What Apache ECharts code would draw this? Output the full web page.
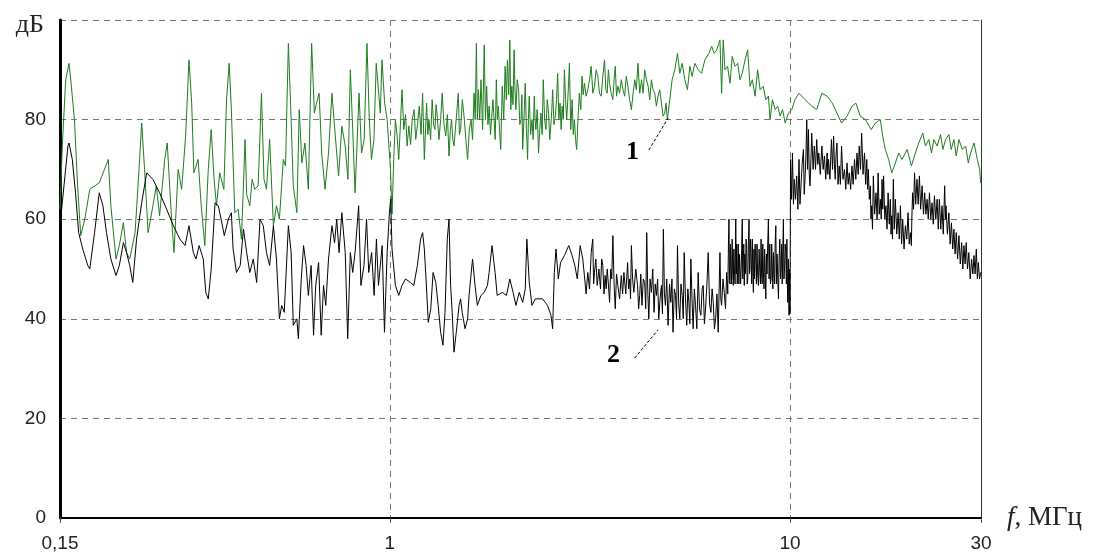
<!DOCTYPE html>
<html><head><meta charset="utf-8">
<script src="https://cdn.jsdelivr.net/npm/echarts@6/dist/echarts.min.js"></script>
<style>html,body{margin:0;padding:0;background:#fff}#c{width:1109px;height:555px}</style>
</head><body><div id="c"></div>
<script>
// x tick values (MHz) and their printed labels
const xTickValues = [0.15, 1, 10, 30];
const xTickLabels = ['0,15', '1', '10', '30'];
// y axis
const yMin = 0, yMax = 100, yStep = 20;
const yUnit = 'дБ';
const xName = 'f, МГц';

// curve 1 (green): [frequency MHz, level dB]
const curve1 = [
[0.150,62],[0.152,74.7],[0.155,88],[0.158,91.3],[0.160,87],[0.163,80],[0.166,66.7],[0.169,56.7],[0.173,60],[0.178,66],[0.188,67.3],[0.198,72],[0.201,62.7],[0.207,52],[0.211,54.7],[0.216,59.3],[0.220,53.3],[0.224,52],[0.231,57.3],[0.235,66.7],[0.240,79.3],[0.244,70],[0.249,57.3],[0.256,62.7],[0.261,66.7],[0.266,60.7],[0.274,72],[0.278,75.3],[0.285,60],[0.289,53.3],[0.296,70],[0.302,66],[0.309,76.7],[0.315,92],[0.320,83.3],[0.324,69.3],[0.332,72],[0.338,62.7],[0.345,54.7],[0.352,70],[0.358,78],[0.364,68],[0.369,62.7],[0.376,69.3],[0.385,66],[0.391,84],[0.397,91.3],
[0.402,82],[0.410,61.3],[0.418,62],[0.426,56],[0.435,76],[0.439,65],[0.447,62.7],[0.453,68],[0.460,66],[0.469,66.7],[0.478,85.3],[0.485,68],[0.492,66],[0.501,76],[0.512,58.7],[0.521,62.7],[0.530,60],[0.542,72],[0.549,70.7],[0.558,95.3],[0.567,80],[0.574,66.7],[0.586,61.3],[0.594,82],[0.603,71.3],[0.614,75.3],[0.626,66],[0.638,95.3],[0.648,81.3],[0.656,83.3],[0.666,85.3],[0.676,73.3],[0.689,66],[0.703,73.3],[0.717,85.3],[0.731,76.7],[0.745,68.7],[0.759,78.7],[0.774,74.7],[0.786,68],[0.797,90],[0.808,78],[0.819,65.3],[0.838,85.3],[0.850,73.3],[0.863,76],[0.877,95.3],[0.889,80],[0.900,72],[0.913,76],[0.925,91.3],[0.947,81.3],[0.956,92],[0.971,83.3],[0.985,80],
[0.994,80],[1.004,70],[1.013,61],[1.023,72],[1.033,80],[1.043,76.7],[1.053,72],[1.063,79],[1.073,86],[1.084,78],[1.095,81],[1.105,74.7],[1.116,78.7],[1.127,75],[1.138,80],[1.150,82],[1.161,76],[1.173,79],[1.185,82.7],[1.197,77],[1.208,85.3],[1.220,72],[1.236,83.3],[1.245,77],[1.253,80],[1.265,76],[1.276,84],[1.287,79],[1.297,78],[1.305,83],[1.314,80.7],[1.327,76],[1.340,80],[1.352,85.3],[1.366,79],[1.380,76.7],[1.393,81],[1.406,72.7],[1.417,78],[1.427,80],[1.437,76],[1.447,74.7],[1.465,80],[1.483,85.3],[1.493,77],[1.503,78],[1.518,84],[1.533,80.7],[1.549,76],[1.565,72],[1.580,78],[1.596,80],[1.610,76],[1.624,85.3],[1.635,80],[1.646,95.3],[1.655,80],[1.665,86],[1.678,80],[1.690,88],[1.706,78],[1.722,95],[1.734,80],[1.746,86.7],[1.759,79],[1.771,82.7],[1.785,77],[1.798,80.7],[1.810,84],[1.822,80],[1.834,76],[1.846,88],[1.857,80],[1.867,82.7],[1.880,78],[1.893,74],[1.910,86.7],[1.926,80],[1.942,90.7],[1.955,84],[1.968,92],[1.982,85],[1.995,96],[2.006,82],[2.018,86.7],[2.032,83],[2.045,94],[2.055,86],[2.066,82],[2.082,88],[2.098,86],[2.113,79],[2.128,80],[2.138,85],[2.148,74],[2.164,80],[2.180,87.3],[2.195,78],[2.210,72],[2.220,80],[2.231,84.7],[2.248,77],[2.266,80],[2.281,76],[2.296,84.7],[2.307,80],[2.318,78],[2.335,82],[2.353,73.3],[2.370,78],[2.386,81.3],[2.402,77],[2.419,88],[2.437,80],[2.456,78],[2.474,84],[2.493,81.3],[2.510,76],[2.528,79.3],[2.540,82],[2.552,86],[2.572,79],[2.592,80.7],[2.610,84],[2.627,89.3],[2.645,80],[2.663,83.3],[2.680,78],[2.695,82.7],[2.713,80],[2.731,90],[2.749,84],[2.767,80],[2.789,85],[2.811,91.3],[2.833,78],[2.855,84],[2.874,77],[2.893,80],[2.912,76],[2.930,74],[2.953,80],[2.976,85.3],[3.000,82],[3.022,88.7],[3.043,85],
[3.064,87.3],[3.094,84.7],[3.124,86],[3.155,88],[3.186,90.7],[3.216,85.3],[3.247,86.7],[3.278,90],[3.310,88.7],[3.342,85.3],[3.375,84.7],[3.407,88.7],[3.440,92],[3.466,86],[3.493,85.3],[3.517,90],[3.541,87.3],[3.575,85.3],[3.609,84],[3.634,88],[3.659,90.7],[3.686,84.7],[3.714,86.7],[3.751,85.3],[3.788,88],[3.825,86],[3.862,84.7],[3.898,88.7],[3.935,86.7],[3.975,84],[4.015,82],[4.054,85.3],[4.093,88],[4.131,86],[4.169,91.3],[4.212,85.3],[4.256,88],[4.295,85.3],[4.334,90],[4.377,88],[4.420,86.7],[4.462,84],[4.505,88],[4.548,86],[4.592,85.3],[4.636,82.7],[4.680,84.7],[4.726,86],[4.772,83.3],[4.818,80.7],[4.864,81.3],[4.900,83.3],[4.937,80],
[5.007,84],[5.074,88],[5.154,90],[5.234,93.3],[5.304,89.3],[5.378,91.3],[5.460,88],[5.543,86],[5.620,90.7],[5.694,88.7],[5.783,91.3],[5.895,90],[6.012,89.3],[6.127,92],[6.271,93.3],[6.370,94.7],[6.465,93.3],[6.560,94],[6.682,96],[6.746,85.3],[6.809,96],[6.877,90],[6.983,90.7],[7.079,87.3],[7.172,92.7],[7.286,90.7],[7.401,91.3],[7.500,88],[7.597,89.3],[7.720,92],[7.837,94],[7.945,86.7],[8.050,88],[8.180,84.7],[8.300,90],[8.418,86],[8.570,86.7],[8.700,84],[8.830,84.7],[8.918,80],[9.036,84],[9.180,82],[9.320,82.7],[9.447,80.7],[9.580,82],[9.724,79.3],[9.910,81.3],
[10.10,82],[10.29,84],[10.53,85.3],[10.90,84],[11.33,82.7],[11.66,82],[12.01,85.3],[12.38,84.7],[12.76,83.3],[13.10,81.3],[13.45,79.3],[13.88,80.7],[14.28,82.7],[14.61,83.3],[14.98,80.7],[15.42,80],[15.96,78],[16.33,79.3],[16.81,80],[17.04,76.7],[17.30,74],[17.64,72],[17.95,69.3],[18.33,71.3],[18.69,73.3],[19.05,72],[19.62,74],[20.10,70.7],[20.57,73.3],[20.97,75.3],[21.46,77.3],[21.80,74.7],[22.22,76],[22.57,73.3],[22.87,76],[23.31,74.7],[23.77,77],[24.09,74],[24.47,76],[24.94,77],[25.28,74],[25.67,76],[26.02,72.7],[26.42,76],[26.94,74],[27.46,74.7],[27.89,71.3],[28.26,73.3],[28.82,75.3],[29.38,72],[29.77,70],[29.94,67.3]
];

// curve 2 (black): [frequency MHz, level dB]
const curve2 = [
[0.150,58.7],[0.157,74.7],[0.158,75.3],[0.161,72],[0.164,65.3],[0.167,57.3],[0.171,54],[0.176,50.7],[0.178,50],[0.183,57.3],[0.188,65.3],[0.192,62.7],[0.196,57.3],[0.201,52],[0.207,48.7],[0.211,50.7],[0.216,55.3],[0.220,53.3],[0.224,50.7],[0.228,47.3],[0.233,56],[0.240,63.3],[0.247,69.3],[0.256,68],[0.266,65.3],[0.277,62],[0.288,58.7],[0.299,56],[0.308,54.7],[0.315,58.7],[0.323,53.3],[0.328,52],[0.334,54.7],[0.342,52],[0.347,45.3],[0.352,44],[0.358,50],[0.366,63.3],[0.373,62.7],[0.379,60],[0.386,56.7],[0.395,60],
[0.402,61.3],[0.406,54],[0.414,49.3],[0.423,50.7],[0.431,58],[0.439,53.3],[0.447,49.3],[0.456,52],[0.465,47.3],[0.474,60],[0.483,58.7],[0.492,53.3],[0.501,50.7],[0.512,58.7],[0.521,52],[0.530,40],[0.537,42.7],[0.545,41.3],[0.558,58.7],[0.567,53.3],[0.574,38.7],[0.586,40],[0.591,36],[0.601,48],[0.609,54.7],[0.618,50.7],[0.626,44.7],[0.636,50.7],[0.645,36.7],[0.653,46.7],[0.664,51.3],[0.674,36.7],[0.683,46.7],[0.692,42.7],[0.703,52],[0.717,58.7],[0.728,55.3],[0.737,60],[0.747,53.3],[0.759,61.3],[0.774,53.3],[0.785,36],[0.797,53.3],[0.808,49.3],[0.819,53.3],[0.836,62.7],[0.847,46.7],[0.862,50.7],[0.875,60],[0.886,49.3],[0.901,53.3],[0.914,44.7],[0.926,56],[0.937,46.7],[0.957,54.7],[0.970,37.3],[0.985,53.3],[0.998,61.3],
[1.005,64],[1.013,54],[1.033,46.7],[1.053,44.7],[1.073,46.7],[1.095,48],[1.126,47.3],[1.148,46.7],[1.172,50.7],[1.194,56],[1.208,57.3],[1.220,54],[1.232,48],[1.248,39.3],[1.266,42],[1.283,49.3],[1.303,47.3],[1.321,42.7],[1.340,37.3],[1.358,34.7],[1.374,41.3],[1.392,56],[1.406,60],[1.419,46.7],[1.432,41.3],[1.447,33.3],[1.466,37.3],[1.490,42.7],[1.503,44],[1.517,41.3],[1.542,38],[1.565,40],[1.578,44.7],[1.610,52],[1.633,46.7],[1.655,42.7],[1.690,44.7],[1.722,45.3],[1.754,46.7],[1.771,49.3],[1.801,54.7],[1.833,49.3],[1.855,44.7],[1.910,45.3],[1.957,44.7],[1.995,48],[2.033,45.3],[2.066,42.7],[2.106,45.3],[2.148,43.3],[2.180,46],[2.200,56],[2.231,47.3],[2.266,42.7],[2.309,44],[2.409,44],[2.478,42.7],[2.528,40.7],[2.552,38],[2.577,49.3],[2.602,54],[2.637,48],[2.671,51.3],[2.731,52.7],[2.799,54.7],[2.855,52.7],[2.900,50.7],[2.941,48],[2.990,54.7],[3.035,52],
[3.064,48.7],[3.094,45],[3.124,49.3],[3.155,46],[3.186,53.3],[3.215,56],[3.231,47],[3.247,49.3],[3.272,52],[3.298,46.7],[3.330,50],[3.361,46],[3.384,52],[3.406,50.7],[3.430,45],[3.452,48.7],[3.473,46],[3.493,50],[3.517,47],[3.541,43.3],[3.564,50],[3.586,48],[3.609,56.7],[3.634,47],[3.659,42],[3.686,49],[3.714,46.7],[3.751,44],[3.788,48.7],[3.817,45],[3.846,49.3],[3.887,45],[3.928,51.3],[3.951,46],[3.975,48],[3.995,44],[4.015,54.7],[4.043,48],[4.072,45.3],[4.116,50],[4.160,46.7],[4.185,42],[4.211,44.7],[4.238,49],[4.266,42.7],[4.300,48],[4.334,47.3],[4.360,42],[4.385,57.3],[4.410,46],[4.437,40],[4.470,48],[4.505,45.3],[4.540,50],[4.574,41.3],[4.605,47],[4.637,44.7],[4.668,48],[4.699,40],[4.735,44],[4.772,46.7],[4.800,41],[4.826,58],[4.855,45],[4.883,42.7],[4.920,48],[4.958,38.7],[5.000,47],[5.036,43.3],[5.070,48],[5.101,37.3],[5.140,46],[5.176,44.7],[5.205,40],[5.234,54.7],[5.270,43],[5.304,40],[5.340,47],[5.378,44.7],[5.410,40],[5.440,53.3],[5.480,44],[5.520,38.7],[5.555,46],[5.588,43.3],[5.620,39],[5.652,52],[5.690,44],[5.728,38],[5.767,46],[5.806,42.7],[5.850,38],[5.895,49.3],[5.940,42],[5.988,40.7],[6.030,46],[6.069,46.7],[6.110,39],[6.151,42],[6.200,47],[6.246,53.3],[6.295,43],[6.344,41.3],[6.387,46],[6.430,43.3],[6.474,38],[6.518,40],[6.567,45],[6.616,37.3],[6.682,53.3],[6.715,44],[6.746,42.7],[6.800,48],[6.850,45.3],[6.900,42],[6.945,49.3],[6.990,45],
[7.020,56],[7.038,60],[7.060,48],[7.080,47],[7.100,55],[7.120,50.7],[7.145,47],[7.170,56],[7.190,50],[7.215,46.7],[7.240,54],[7.260,50],[7.290,47],[7.318,60],[7.340,49],[7.360,55],[7.380,47],[7.401,49.3],[7.425,55],[7.450,47],[7.475,53],[7.500,53.3],[7.525,47],[7.550,50],[7.575,55],[7.597,60],[7.620,48],[7.640,52],[7.665,55],[7.686,46.7],[7.710,53],[7.740,49],[7.765,56],[7.790,54.7],[7.815,47],[7.840,48],[7.870,55],[7.899,60],[7.920,49],[7.940,50],[7.965,56],[7.991,53.3],[8.020,47],[8.050,56],[8.075,49],[8.100,45.3],[8.125,54],[8.150,48],[8.180,55],[8.211,52],[8.240,47],[8.270,55],[8.300,49],[8.337,46.7],[8.370,54],[8.400,50],[8.435,47],[8.466,56],[8.490,49],[8.520,47],[8.550,55],[8.580,49.3],[8.610,46],[8.640,54],[8.670,49],[8.700,44],[8.730,53],[8.760,49],[8.795,55],[8.830,60],[8.865,48],[8.900,55],[8.935,47],[8.969,48],[9.000,55],[9.030,50],[9.060,46],[9.090,53.3],[9.120,49],[9.150,47],[9.180,55],[9.215,58.7],[9.245,47],[9.280,53],[9.320,48],[9.355,44],[9.390,52],[9.430,56],[9.465,48],[9.502,50.7],[9.530,55],[9.560,47],[9.590,53],[9.625,60],[9.655,48],[9.690,50],[9.725,55],[9.763,53.3],[9.790,47],[9.820,56],[9.845,48],[9.870,43.3],[9.900,52],[9.943,40.7],[9.970,50],[10.00,41],[10.03,72],
[10.09,64],[10.14,73.3],[10.20,63],[10.25,68],[10.32,64],[10.39,68.7],[10.46,62],[10.53,72],[10.59,63],[10.65,66.7],[10.72,71],[10.80,74],[10.85,65],[10.90,68],[10.96,73],[11.01,80],[11.06,70],[11.12,78],[11.17,69],[11.22,66.7],[11.28,72],[11.33,77.3],[11.42,70],[11.50,74.7],[11.58,70],[11.66,76],[11.73,71],[11.80,73.3],[11.90,69],[12.01,74.7],[12.10,70],[12.19,72.7],[12.28,68],[12.38,73.3],[12.43,69],[12.48,72],[12.58,68],[12.69,76],[12.77,70],[12.85,76.7],[12.91,71],[12.97,68],[13.03,73],[13.10,75.3],[13.18,67],[13.27,70.7],[13.36,67],[13.45,74.7],[13.56,68],[13.68,70],[13.78,66],[13.88,71.3],[13.97,67],[14.06,69.3],[14.17,66],[14.28,70.7],[14.38,67],[14.49,72],[14.60,68],[14.70,73.3],[14.80,69],[14.89,74.7],[15.00,70],[15.10,77.3],[15.22,69],[15.35,73.3],[15.45,67],[15.55,72],[15.62,66],[15.69,70],[15.78,64],[15.87,66.7],[15.93,60],[16.00,62.7],[16.07,58],[16.15,68.7],[16.27,61],[16.40,65.3],[16.50,60],[16.60,69.3],[16.70,61],[16.81,64],[16.90,60],[16.98,68],[17.05,62],[17.13,68.7],[17.25,60],[17.36,62.7],[17.47,58],[17.58,65.3],[17.70,59],[17.81,64],[17.88,57],[17.95,60.7],[18.03,56],[18.12,68],[18.22,58],[18.33,64],[18.48,57],[18.62,61.3],[18.75,56],[18.87,62.7],[19.00,55],[19.12,60],[19.27,54],[19.42,58.7],[19.57,56],[19.72,61.3],[19.85,55],[19.99,57.3],[20.10,54.7],[20.15,60],[20.24,65.3],[20.35,62],[20.47,69.3],[20.60,63],[20.76,68],[20.90,63],[21.05,68.7],[21.20,62],[21.38,66.7],[21.55,61],[21.70,65.3],[21.85,61],[22.00,64],[22.15,60],[22.30,65.3],[22.47,60],[22.64,63.3],[22.80,59],[22.95,64.7],[23.13,60],[23.31,64],[23.46,58],[23.61,64],[23.80,58],[23.97,62.7],[24.15,57],[24.34,66.7],[24.45,60],[24.53,62.7],[24.73,57],[24.94,61.3],[25.12,55],[25.31,59.3],[25.50,54],[25.67,58],[25.85,53],[26.02,57.3],[26.22,52],[26.42,56.7],[26.63,51],[26.84,55.3],[27.02,50],[27.20,54.7],[27.38,51],[27.55,55.3],[27.76,50],[27.97,53.3],[28.20,48],[28.42,52],[28.62,49],[28.82,52.7],[29.00,49],[29.20,54],[29.38,48],[29.55,51.3],[29.75,48],[29.94,49.3]
];

// curve labels and their pointers (data coordinates)
const label1 = {text: '1', at: [4.04, 73.5], from: [4.44, 73.9], to: [4.96, 80.3]};
const label2 = {text: '2', at: [3.62, 32.7], from: [4.09, 32.1], to: [4.68, 37.8]};

function xLabel(v) {
  let best = 0;
  for (let i = 1; i < xTickValues.length; i++) {
    if (Math.abs(Math.log(v / xTickValues[i])) < Math.abs(Math.log(v / xTickValues[best]))) best = i;
  }
  return xTickLabels[best];
}

const annotStyle = {fontFamily: 'Liberation Serif', fontWeight: 'bold', fontSize: 26, color: '#000'};
function markFor(lb) {
  return {
    markPoint: {
      symbol: 'circle', symbolSize: 1, silent: true,
      itemStyle: {color: 'rgba(0,0,0,0)'},
      label: Object.assign({show: true, position: 'inside', formatter: lb.text}, annotStyle),
      data: [{coord: lb.at}]
    },
    markLine: {
      symbol: ['none', 'none'], silent: true,
      lineStyle: {color: '#000', type: [3, 2], width: 1},
      label: {show: false},
      data: [[{coord: lb.from}, {coord: lb.to}]]
    }
  };
}

const chart = echarts.init(document.getElementById('c'), null, {renderer: 'canvas'});
chart.setOption({
  animation: false,
  backgroundColor: '#fff',
  grid: {left: 60, right: 128, top: 20, bottom: 37, containLabel: false},
  xAxis: {
    type: 'log', logBase: 10, min: xTickValues[0], max: xTickValues[xTickValues.length - 1],
    axisLine: {show: true, onZero: false, lineStyle: {color: '#000', width: 2}},
    axisTick: {show: true, length: 5, lineStyle: {color: '#555'}},
    axisLabel: {fontFamily: 'Liberation Sans', fontSize: 19, color: '#222', margin: 16,
      showMinLabel: true, showMaxLabel: true, formatter: xLabel},
    splitLine: {show: true, lineStyle: {color: '#777', type: [6, 5], width: 1}},
    minorTick: {show: false}, minorSplitLine: {show: false},
    name: '{i|f}{n|' + xName.slice(1) + '}', nameLocation: 'end', nameGap: 26,
    nameTextStyle: {
      rich: {
        i: {fontFamily: 'Liberation Serif', fontStyle: 'italic', fontSize: 27, color: '#222'},
        n: {fontFamily: 'Liberation Serif', fontSize: 27, color: '#222'}
      }
    }
  },
  yAxis: [{
    type: 'value', min: yMin, max: yMax, interval: yStep,
    axisLine: {show: true, onZero: false, lineStyle: {color: '#000', width: 3}},
    axisTick: {show: false},
    axisLabel: {fontFamily: 'Liberation Sans', fontSize: 19, color: '#222', margin: 14,
      formatter: v => v === yMax ? '{u|' + yUnit + '}' : String(v),
      rich: {u: {fontFamily: 'Liberation Serif', fontSize: 26, color: '#222', padding: [10, 2, 0, 0]}}},
    splitLine: {show: true, lineStyle: {color: '#777', type: [6, 5], width: 1}}
  }, {
    type: 'value', min: yMin, max: yMax, interval: yStep, position: 'right',
    axisLine: {show: true, onZero: false, lineStyle: {color: '#333', width: 1}},
    axisTick: {show: false}, axisLabel: {show: false}, splitLine: {show: false}
  }],
  series: [
    Object.assign({
      name: '1', type: 'line', data: curve1, symbol: 'none', showSymbol: false,
      lineStyle: {color: '#1e7d1e', width: 1}, itemStyle: {color: '#1e7d1e'}, z: 2
    }, markFor(label1)),
    Object.assign({
      name: '2', type: 'line', data: curve2, symbol: 'none', showSymbol: false,
      lineStyle: {color: '#000', width: 1}, itemStyle: {color: '#000'}, z: 3
    }, markFor(label2))
  ]
});
</script>
</body></html>
